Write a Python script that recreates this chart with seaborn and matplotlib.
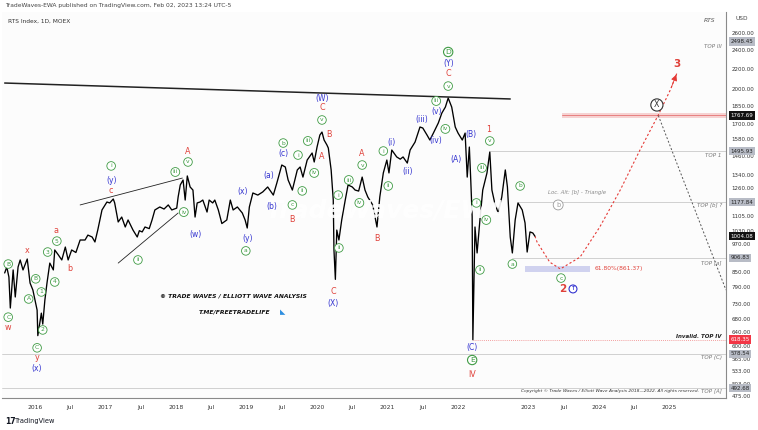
import numpy as np
import pandas as pd
import matplotlib
matplotlib.use("Agg")
import matplotlib.pyplot as plt
import matplotlib.transforms as mtransforms
from matplotlib.ticker import NullLocator, FixedLocator, FixedFormatter
import seaborn as sns

# ---------------- data ----------------
yr = [2015.57, 2015.60, 2015.63, 2015.65, 2015.69, 2015.72, 2015.76, 2015.79, 2015.83, 2015.89,
      2015.93, 2015.97, 2016.03, 2016.04, 2016.09, 2016.11, 2016.14, 2016.17, 2016.21, 2016.26,
      2016.28, 2016.33, 2016.38, 2016.43, 2016.47, 2016.52, 2016.58, 2016.64, 2016.71, 2016.75,
      2016.81, 2016.85, 2016.89, 2016.92, 2016.95, 2017.02, 2017.06, 2017.11, 2017.13, 2017.18,
      2017.23, 2017.28, 2017.32, 2017.39, 2017.45, 2017.48, 2017.52, 2017.56, 2017.62, 2017.66,
      2017.70, 2017.77, 2017.83, 2017.89, 2017.94, 2018.01, 2018.03, 2018.06, 2018.10, 2018.13,
      2018.16, 2018.20, 2018.24, 2018.27, 2018.30, 2018.34, 2018.38, 2018.44, 2018.47, 2018.52,
      2018.55, 2018.60, 2018.65, 2018.72, 2018.77, 2018.81, 2018.87, 2018.94, 2018.98, 2019.01,
      2019.04, 2019.09, 2019.16, 2019.23, 2019.30, 2019.38, 2019.43, 2019.50, 2019.55, 2019.59,
      2019.65, 2019.72, 2019.76, 2019.80, 2019.86, 2019.93, 2019.96, 2020.00, 2020.04, 2020.07,
      2020.10, 2020.14, 2020.16, 2020.20, 2020.23, 2020.24, 2020.26, 2020.28, 2020.31, 2020.35,
      2020.40, 2020.44, 2020.50, 2020.54, 2020.59, 2020.64, 2020.68, 2020.72, 2020.79, 2020.85,
      2020.89, 2020.94, 2020.99, 2021.02, 2021.06, 2021.11, 2021.13, 2021.18, 2021.22, 2021.28,
      2021.32, 2021.39, 2021.46, 2021.50, 2021.56, 2021.60, 2021.65, 2021.72, 2021.77, 2021.82,
      2021.86, 2021.91, 2021.96, 2022.00, 2022.06, 2022.10, 2022.13, 2022.16, 2022.18, 2022.20,
      2022.21, 2022.24, 2022.27, 2022.31, 2022.35, 2022.41, 2022.45, 2022.48, 2022.52, 2022.57,
      2022.62, 2022.67, 2022.70, 2022.74, 2022.77, 2022.81, 2022.85, 2022.91, 2022.95, 2022.98,
      2023.02, 2023.06, 2023.09]
price = [845, 869, 829, 717, 857, 755, 869, 898, 857, 902,
         806, 780, 710, 630, 700, 665, 744, 806, 885, 857,
         941, 920, 898, 954, 898, 941, 930, 986, 986, 1009,
         1000, 977, 1033, 1083, 1135, 1178, 1173, 1195, 1173, 1073,
         1098, 1048, 1083, 1033, 1000, 1030, 1024, 1048, 1040, 1083,
         1135, 1151, 1140, 1162, 1135, 1145, 1206, 1276, 1306, 1189,
         1331, 1264, 1246, 1098, 1173, 1178, 1189, 1124, 1189, 1173,
         1189, 1135, 1065, 1083, 1189, 1135, 1151, 1119, 1083, 1043,
         1151, 1229, 1217, 1235, 1264, 1217, 1288, 1401, 1388, 1306,
         1246, 1369, 1388, 1324, 1434, 1482, 1421, 1524, 1612, 1635,
         1575, 1539, 1517, 1369, 1189, 941, 820, 1033, 986, 1083,
         1189, 1276, 1264, 1246, 1240, 1324, 1246, 1206, 1162, 1048,
         1206, 1350, 1434, 1350, 1503, 1468, 1455, 1440, 1455, 1414,
         1503, 1560, 1674, 1666, 1612, 1575, 1627, 1706, 1787, 1838,
         1917, 1838, 1674, 1627, 1575, 1627, 1324, 1524, 1306, 1100,
         618, 1048, 928, 1083, 1246, 1350, 1489, 1246, 1173, 1119,
         1206, 1369, 1264, 1000, 928, 1083, 1173, 1135, 1068, 932,
         1024, 1019, 1004]

# projected path (red dotted) and alternative (gray dotted)
proj_yr = [2023.09, 2023.12, 2023.30, 2023.45, 2023.73, 2024.01, 2024.30, 2024.58, 2024.84, 2025.01, 2025.11]
proj_px = [1004, 977, 889, 861, 910, 1048, 1246, 1503, 1771, 1991, 2166]
alt_yr = [2024.84, 2025.80]
alt_px = [1767, 780]

# drawn trend lines
top_line_yr, top_line_px = [2015.57, 2022.74], [2057, 1909]
wedge_up_yr, wedge_up_px = [2016.64, 2018.09], [1162, 1318]
wedge_lo_yr, wedge_lo_px = [2017.18, 2018.03], [885, 1119]

# levels: (value, start year, label)
levels = [(1495.93, 2022.45, "TOP 1"), (1177.84, 2022.85, "TOP [b] ?"),
          (906.83, 2022.77, "TOP [a]"), (578.54, 2015.53, "TOP (C)"),
          (492.68, 2015.53, "TOP [A]")]
invalid_level = 618.35
target_level = 1767.69
fib_level = 861.37

y_ticks = [2600, 2400, 2200, 2000, 1850, 1700, 1580, 1460, 1340, 1260, 1180, 1105, 1030, 970,
           910, 850, 790, 730, 680, 640, 600, 565, 533, 503, 475]
badges = [(2498.45, "#b8bcc6", "#222"), (1767.69, "#111111", "#fff"), (1495.93, "#b8bcc6", "#222"),
          (1177.84, "#b8bcc6", "#222"), (1004.08, "#111111", "#fff"), (906.83, "#b8bcc6", "#222"),
          (618.35, "#f23645", "#fff"), (578.54, "#b8bcc6", "#222"), (492.68, "#b8bcc6", "#222")]

x_tick_pos = [2016, 2016.5, 2017, 2017.5, 2018, 2018.5, 2019, 2019.5, 2020, 2020.5,
              2021, 2021.5, 2022, 2023, 2023.5, 2024, 2024.5, 2025]
x_tick_lab = ["2016", "Jul", "2017", "Jul", "2018", "Jul", "2019", "Jul", "2020", "Jul",
              "2021", "Jul", "2022", "2023", "Jul", "2024", "Jul", "2025"]

# wave labels: (year, price, text, kind)
wave_labels = [
    (2015.62, 881, "B", "g"), (2015.62, 687, "C", "g"), (2015.62, 656, "w", "r"),
    (2015.89, 937, "x", "r"), (2015.91, 748, "A", "g"), (2016.01, 822, "B", "g"),
    (2016.03, 595, "C", "g"), (2016.03, 568, "y", "r"), (2016.03, 539, "(x)", "b"),
    (2016.09, 773, "1", "g"), (2016.11, 647, "2", "g"), (2016.18, 932, "3", "g"),
    (2016.28, 810, "4", "g"), (2016.31, 981, "5", "g"), (2016.30, 1033, "a", "r"),
    (2016.50, 861, "b", "r"), (2017.08, 1246, "c", "r"), (2017.08, 1306, "(y)", "b"),
    (2017.08, 1395, "i", "g"), (2017.46, 898, "ii", "g"), (2017.99, 1356, "iii", "g"),
    (2018.17, 1421, "v", "g"), (2018.17, 1496, "A", "r"), (2018.11, 1124, "iv", "g"),
    (2018.28, 1014, "(w)", "b"), (2018.94, 1235, "(x)", "b"), (2019.01, 995, "(y)", "b"),
    (2018.99, 937, "a", "g"),
    (2019.32, 1331, "(a)", "b"), (2019.36, 1151, "(b)", "b"), (2019.52, 1553, "b", "g"),
    (2019.52, 1482, "(c)", "b"), (2019.65, 1162, "c", "g"), (2019.65, 1083, "B", "r"),
    (2019.73, 1468, "i", "g"), (2019.79, 1241, "ii", "g"), (2019.87, 1568, "iii", "g"),
    (2019.96, 1350, "iv", "g"), (2020.07, 1909, "(W)", "b"), (2020.07, 1830, "C", "r"),
    (2020.07, 1730, "v", "g"), (2020.17, 1620, "B", "r"), (2020.07, 1455, "A", "r"),
    (2020.30, 1217, "i", "g"), (2020.31, 950, "ii", "g"), (2020.23, 773, "C", "r"),
    (2020.23, 734, "(X)", "b"), (2020.45, 1306, "iii", "g"), (2020.64, 1401, "v", "g"),
    (2020.64, 1482, "A", "r"), (2020.60, 1173, "iv", "g"), (2020.85, 995, "B", "r"),
    (2020.94, 1496, "i", "g"), (2021.05, 1560, "(i)", "b"), (2021.01, 1270, "ii", "g"),
    (2021.29, 1356, "(ii)", "b"), (2021.49, 1738, "(iii)", "b"), (2021.69, 1891, "iii", "g"),
    (2021.69, 1804, "(v)", "b"), (2021.82, 1659, "iv", "g"), (2021.69, 1568, "(iv)", "b"),
    (2021.86, 2028, "v", "g"), (2021.86, 2146, "C", "r"), (2021.86, 2249, "(Y)", "b"),
    (2021.86, 2379, "D", "G"), (2021.97, 1441, "(A)", "b"), (2022.18, 1620, "(B)", "b"),
    (2022.44, 1651, "1", "r"), (2022.45, 1568, "v", "g"), (2022.34, 1382, "iii", "g"),
    (2022.26, 1173, "i", "g"), (2022.40, 1083, "iv", "g"), (2022.31, 857, "ii", "g"),
    (2022.77, 881, "a", "g"), (2022.88, 1270, "b", "g"), (2022.20, 595, "(C)", "b"),
    (2022.20, 562, "E", "G"), (2022.20, 526, "IV", "r"),
    (2023.46, 825, "c", "g"), (2023.48, 784, "2", "R"), (2023.42, 1162, "b", "gray"),
    (2024.82, 1856, "X", "k"), (2025.11, 2249, "3", "R"),
]

RED = "#e0413a"
BLUE = "#3434d0"
GREEN = "#3f9b44"
GRAY = "#9a9a9a"

# ---------------- figure ----------------
sns.set_theme(style="white")
plt.rcParams["font.family"] = ["DejaVu Sans"]

fig = plt.figure(figsize=(7.58, 4.30), dpi=100)
fig.patch.set_facecolor("white")
ax = fig.add_axes([2 / 758, 32 / 430, 724 / 758, 386 / 430])
ax.set_facecolor("#fcfcfc")

df = pd.DataFrame({"year": yr, "price": price})
sns.lineplot(data=df, x="year", y="price", ax=ax, color="black", lw=0.95,
             estimator=None, sort=False, zorder=3)

ax.set_yscale("log")
ax.set_xlim(2015.532, 2025.80)
ax.set_ylim(470.4, 2869)

# trend lines
for xs, ys, lw in [(top_line_yr, top_line_px, 1.1), (wedge_up_yr, wedge_up_px, 0.6),
                   (wedge_lo_yr, wedge_lo_px, 0.6)]:
    ax.plot(xs, ys, color="#222", lw=lw, zorder=2)

# levels
for val, start, lab in levels:
    ax.plot([start, 2025.80], [val, val], color="#c9c9c9", lw=0.6, zorder=1)
ax.plot([2022.21, 2025.80], [invalid_level, invalid_level], color="#f08080", lw=0.6,
        ls=(0, (1, 1.5)), zorder=1)

# target band & fib band
ax.fill_between([2023.47, 2025.80], 1745, 1790, color="#f3b6b6", alpha=0.6, lw=0, zorder=1)
ax.plot([2023.47, 2025.80], [target_level, target_level], color="#e57373", lw=0.6, zorder=1)
ax.fill_between([2022.95, 2023.87], 850, 874, color="#c5c8ec", alpha=0.8, lw=0, zorder=1)
ax.text(2023.93, fib_level, "61.80%(861.37)", color=RED, fontsize=4.3, va="center", ha="left")

# projections
ax.plot(proj_yr, proj_px, color="#e53935", lw=0.8, ls=(0, (2, 2)), zorder=2)
ax.annotate("", xy=(proj_yr[-1], proj_px[-1]), xytext=(proj_yr[-2], proj_px[-2]),
            arrowprops=dict(arrowstyle="-|>,head_length=0.3,head_width=0.15", color="#e53935", lw=0.6))
ax.plot(alt_yr, alt_px, color="#555", lw=0.7, ls=(0, (2, 2)), zorder=2)

# wave labels
for x, y, t, k in wave_labels:
    if k == "r":
        ax.text(x, y, t, color=RED, fontsize=5.8, ha="center", va="center", zorder=6)
    elif k == "R":
        ax.text(x, y, t, color=RED, fontsize=7.5, fontweight="bold", ha="center", va="center", zorder=6)
    elif k == "b":
        ax.text(x, y, t, color=BLUE, fontsize=5.5, ha="center", va="center", zorder=6)
    elif k == "g":
        ax.text(x, y, t, color=GREEN, fontsize=4.3, ha="center", va="center", zorder=6,
                bbox=dict(boxstyle="circle,pad=0.3", fc="white", ec=GREEN, lw=0.6))
    elif k == "G":
        ax.text(x, y, t, color=GREEN, fontsize=5.4, ha="center", va="center", zorder=6,
                bbox=dict(boxstyle="circle,pad=0.22", fc="white", ec=GREEN, lw=0.8))
    elif k == "gray":
        ax.text(x, y, t, color=GRAY, fontsize=4.7, ha="center", va="center", zorder=6,
                bbox=dict(boxstyle="circle,pad=0.3", fc="white", ec=GRAY, lw=0.6))
    elif k == "k":
        ax.text(x, y, t, color="#333", fontsize=5.7, ha="center", va="center", zorder=6,
                bbox=dict(boxstyle="circle,pad=0.2", fc="white", ec="#333", lw=0.8))
ax.text(2023.63, 784, "↑", color=BLUE, fontsize=4.2, fontweight="bold", ha="center", va="center",
        zorder=6, bbox=dict(boxstyle="circle,pad=0.25", fc="white", ec=BLUE, lw=0.8))

ax.text(2023.69, 1229, "Loc. Alt: [b] - Triangle", color="#8a8a8a", fontsize=3.9,
        style="italic", ha="center", va="center")

# right-hand level labels
for val, lab in [(2441, "TOP III"), (1468, "TOP 1"), (1162, "TOP [b] ?"), (885, "TOP [a]"),
                 (570, "TOP (C)"), (486, "TOP [A]")]:
    ax.text(2025.74, val, lab, color="#777", fontsize=4.0, style="italic", ha="right", va="center")
ax.text(2025.74, 626, "Invalid. TOP IV", color="#222", fontsize=4.0, style="italic",
        fontweight="bold", ha="right", va="center")
ax.text(2025.42, 486, "Copyright © Trade Waves / Elliott Wave Analysis 2018—2022. All rights reserved.",
        color="#333", fontsize=3.2, style="italic", ha="right", va="center")

# watermark and copyright block
ax.text(2020.98, 1130, "TradeWaves/EWA", color="white", alpha=0.9, fontsize=18,
        fontweight="bold", style="italic", ha="center", va="center", zorder=4)
ax.text(2018.81, 758, "© TRADE WAVES / ELLIOTT WAVE ANALYSIS", color="#111", fontsize=4.3,
        fontweight="bold", style="italic", ha="center", va="center")
ax.text(2018.83, 704, "T.ME/FREETRADELIFE", color="#111", fontsize=4.3,
        fontweight="bold", style="italic", ha="center", va="center")
ax.text(2019.51, 704, "◣", color="#2f8fe0", fontsize=5, ha="center", va="center")

# axes styling
for s in ["top", "left"]:
    ax.spines[s].set_visible(False)
for s in ["right", "bottom"]:
    ax.spines[s].set_color("#8a8a8a")
    ax.spines[s].set_linewidth(0.8)
ax.yaxis.tick_right()
ax.yaxis.set_major_locator(FixedLocator(y_ticks))
ax.yaxis.set_major_formatter(FixedFormatter([f"{v:.2f}" for v in y_ticks]))
ax.yaxis.set_minor_locator(NullLocator())
ax.tick_params(axis="y", length=0, pad=4, labelsize=4.0, labelcolor="#333", right=True, left=False)
ax.set_xticks(x_tick_pos)
ax.set_xticklabels(x_tick_lab)
ax.tick_params(axis="x", length=0, pad=5, labelsize=4.3, labelcolor="#333")
ax.set_xlabel("")
ax.set_ylabel("")
ax.grid(False)

trans = mtransforms.blended_transform_factory(ax.transAxes, ax.transData)
for val, bg, fg in badges:
    ax.text(1.0058, val, f"{val:.2f}", transform=trans, fontsize=4.0, color=fg, ha="left",
            va="center", clip_on=False, zorder=10,
            bbox=dict(boxstyle="square,pad=0.3", fc=bg, ec="none"))

# header / footer texts
fig.text(5 / 758, 1 - 5 / 430, "TradeWaves-EWA published on TradingView.com, Feb 02, 2023 13:24 UTC-5",
         fontsize=4.3, color="#444", va="center", ha="left")
fig.text(8 / 758, 1 - 21 / 430, "RTS Index, 1D, MOEX", fontsize=4.2, color="#333", va="center", ha="left")
fig.text(710 / 758, 1 - 20 / 430, "RTS", fontsize=4.3, color="#555", style="italic", va="center", ha="center")
fig.text(735 / 758, 1 - 18 / 430, "USD", fontsize=4.2, color="#444", va="center", ha="left")
fig.text(5 / 758, 1 - 421 / 430, "17", fontsize=5.5, fontweight="bold", color="#131722", va="center", ha="left")
fig.text(15 / 758, 1 - 421 / 430, "TradingView", fontsize=4.8, color="#131722", va="center", ha="left")

fig.savefig("out.png", dpi=100)
